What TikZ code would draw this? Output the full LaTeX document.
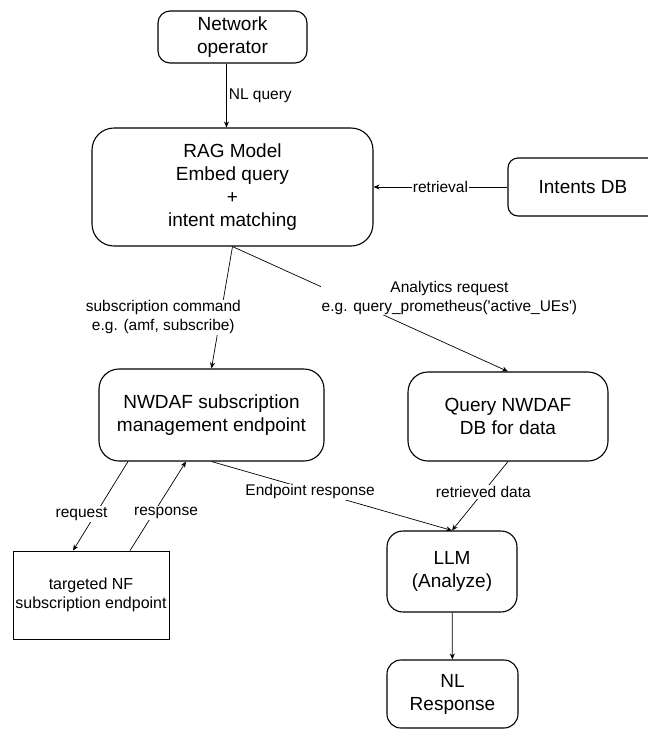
\documentclass[tikz,border=0pt]{standalone}
\usepackage{fontspec}
\setmainfont{Liberation Sans}
\usetikzlibrary{arrows.meta}
\tikzset{>={Stealth[length=6pt,width=5pt]}}

\begin{document}
\begin{tikzpicture}[
    x=1pt, y=-1pt,
    block/.style={rectangle, rounded corners=#1, draw, line width=1.1pt, align=center, inner sep=2pt, font=\fontsize{19}{23}\selectfont},
    block/.default=14pt,
    plainbox/.style={rectangle, draw, line width=0.8pt, align=center, inner sep=2pt, font=\fontsize{16}{19}\selectfont},
    lbl/.style={fill=white, inner sep=1pt, align=center, font=\fontsize{15.5}{19}\selectfont},
    flow/.style={->, line width=0.7pt}
]
\useasboundingbox (0,0) rectangle (648,729);

\node[block=12pt, minimum width=149pt, minimum height=52pt] (operator) at (232.5,37) {Network\\operator};
\node[block=22pt, minimum width=281pt, minimum height=118pt] (rag) at (232.5,187) {RAG Model\\Embed query\\+\\intent matching};
\node[block=10pt, minimum width=150pt, minimum height=58pt] (intents) at (583,187) {Intents DB};
\node[block=20pt, minimum width=225pt, minimum height=92pt] (nwdaf) at (211.5,415) {NWDAF subscription\\management endpoint};
\node[block=20pt, minimum width=200pt, minimum height=89pt] (query) at (508,416.5) {Query NWDAF\\DB for data};
\node[plainbox, minimum width=156pt, minimum height=88pt] (target) at (91,595) {targeted NF\\subscription endpoint};
\node[block=16pt, minimum width=130pt, minimum height=81pt] (llm) at (452,571.5) {LLM\\(Analyze)};
\node[block=14pt, minimum width=131pt, minimum height=68pt] (nlresp) at (452.5,694) {NL\\Response};

% query path
\draw[flow] ([xshift=-6pt]operator.south) -- ([xshift=-6pt]operator.south |- rag.north)
    node[midway, right, inner sep=2pt, font=\fontsize{15.5}{19}\selectfont] {NL query};
\draw[flow] (intents.west) -- (rag.east) node[lbl, pos=0.5] {retrieval};

% split after matching
\draw[flow] (rag.south) -- (nwdaf.north)
    node[lbl, pos=0.58, xshift=-57pt] {subscription command\\e.g. (amf, subscribe)};
\draw[flow] (rag.south) -- (query.north)
    node[lbl, pos=0.41, xshift=104pt] {Analytics request\\e.g. query\_prometheus(\textquotesingle active\_UEs\textquotesingle)};

% subscription exchange
\draw[flow] ([xshift=-83.5pt]nwdaf.south) -- ([xshift=-18pt]target.north)
    node[lbl, pos=0.59, xshift=-14pt] {request};
\draw[flow] ([xshift=39pt]target.north) -- ([xshift=-25.5pt]nwdaf.south)
    node[lbl, pos=0.42, xshift=12.5pt] {response};

% results to the LLM
\draw[flow] (nwdaf.south) -- (llm.north) node[lbl, pos=0.41, yshift=-2pt] {Endpoint response};
\draw[flow] (query.south) -- (llm.north) node[lbl, pos=0.44] {retrieved data};
\draw[flow] (llm) -- (nlresp);
\end{tikzpicture}
\end{document}
